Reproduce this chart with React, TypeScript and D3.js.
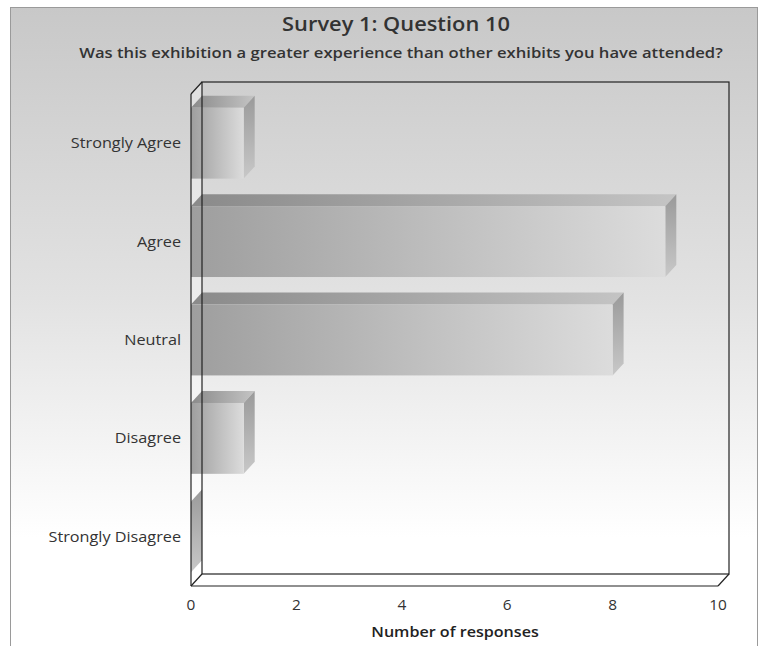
import React from "react";
import * as d3 from "d3";

const categories = ["Strongly Agree", "Agree", "Neutral", "Disagree", "Strongly Disagree"];
const responses = [1, 9, 8, 1, 0];
const xTicks = [0, 2, 4, 6, 8, 10];
const title = "Survey 1: Question 10";
const subtitle = "Was this exhibition a greater experience than other exhibits you have attended?";
const xAxisTitle = "Number of responses";

const W = 768;
const H = 646;
const DX = 11;
const DY = 12;
const left = 191;
const right = 718;
const top = 94;
const bottom = 586;
const FONT = "'Open Sans', 'Noto Sans', sans-serif";

export default function App() {
  const x = d3.scaleLinear().domain([0, 10]).range([left, right]);
  const y = d3
    .scaleBand<string>()
    .domain(categories)
    .range([top, bottom])
    .paddingInner(0.28)
    .paddingOuter(0.14);
  const bw = y.bandwidth();
  const pts = (arr: number[][]) => arr.map((p) => p.join(",")).join(" ");

  return (
    <svg
      width={W}
      height={H}
      style={{ position: "absolute", left: 0, top: 0, display: "block" }}
      fontFamily={FONT}
    >
      <defs>
        <linearGradient id="bg" x1="0" y1="0" x2="0" y2="1">
          <stop offset="0" stopColor="#c8c8c8" />
          <stop offset="0.45" stopColor="#e2e2e2" />
          <stop offset="0.82" stopColor="#ffffff" />
        </linearGradient>
        <linearGradient id="front" x1="0" y1="0" x2="1" y2="0">
          <stop offset="0" stopColor="#9e9e9e" />
          <stop offset="1" stopColor="#dcdcdc" />
        </linearGradient>
        <linearGradient id="topf" x1="0" y1="0" x2="1" y2="0">
          <stop offset="0" stopColor="#8a8a8a" />
          <stop offset="1" stopColor="#c4c4c4" />
        </linearGradient>
        <linearGradient id="side" x1="0" y1="0" x2="0" y2="1">
          <stop offset="0" stopColor="#9a9a9a" />
          <stop offset="1" stopColor="#c8c8c8" />
        </linearGradient>
      </defs>
      <rect x={0} y={0} width={W} height={H} fill="#ffffff" />
      <rect x={10.5} y={7.5} width={747} height={H} fill="url(#bg)" stroke="#9a9a9a" strokeWidth={1} />

      {/* walls */}
      <polygon
        points={pts([[left, bottom], [left + DX, bottom - DY], [right + DX, bottom - DY], [right, bottom]])}
        fill="#ffffff"
      />
      <polygon
        points={pts([[left, top], [left + DX, top - DY], [left + DX, bottom - DY], [left, bottom]])}
        fill="#ffffff"
        fillOpacity={0.35}
      />

      {/* bars */}
      {categories.map((c, i) => {
        const v = responses[i];
        const x0 = x(0);
        const x1 = x(v);
        const y0 = y(c)!;
        const y1 = y0 + bw;
        return (
          <g key={c}>
            {v > 0 && (
              <polygon
                points={pts([[x0, y0], [x0 + DX, y0 - DY], [x1 + DX, y0 - DY], [x1, y0]])}
                fill="url(#topf)"
              />
            )}
            <polygon
              points={pts([[x1, y0], [x1 + DX, y0 - DY], [x1 + DX, y1 - DY], [x1, y1]])}
              fill="url(#side)"
            />
            {v > 0 && <rect x={x0} y={y0} width={x1 - x0} height={bw} fill="url(#front)" />}
          </g>
        );
      })}

      {/* wall outlines */}
      <g fill="none" stroke="#222" strokeWidth={1.2}>
        <rect x={left + DX} y={top - DY} width={right - left} height={bottom - top} />
        <line x1={left} y1={top} x2={left} y2={bottom} />
        <line x1={left} y1={top} x2={left + DX} y2={top - DY} />
        <line x1={left} y1={bottom} x2={right} y2={bottom} />
        <line x1={left} y1={bottom} x2={left + DX} y2={bottom - DY} />
        <line x1={right} y1={bottom} x2={right + DX} y2={bottom - DY} />
      </g>

      {/* category labels */}
      {categories.map((c) => (
        <g key={c} transform={`translate(181,${y(c)! + bw / 2 + 5}) scale(1.12,1)`}>
          <text x={0} y={0} textAnchor="end" fontSize={14.5} fill="#333">
            {c}
          </text>
        </g>
      ))}

      {/* x ticks */}
      {xTicks.map((t) => (
        <g key={t} transform={`translate(${x(t)},610) scale(1.1,1)`}>
          <text x={0} y={0} textAnchor="middle" fontSize={14} fill="#333">
            {t}
          </text>
        </g>
      ))}

      <g transform={`translate(455,637) scale(1.15,1)`}>
        <text x={0} y={0} textAnchor="middle" fontSize={14} fontWeight={600} fill="#222">
          {xAxisTitle}
        </text>
      </g>
      <g transform={`translate(396,31) scale(1.12,1)`}>
        <text x={0} y={0} textAnchor="middle" fontSize={19.5} fontWeight={600} fill="#333">
          {title}
        </text>
      </g>
      <g transform={`translate(401,58) scale(1.125,1)`}>
        <text x={0} y={0} textAnchor="middle" fontSize={14.8} fontWeight={600} fill="#333">
          {subtitle}
        </text>
      </g>
    </svg>
  );
}
